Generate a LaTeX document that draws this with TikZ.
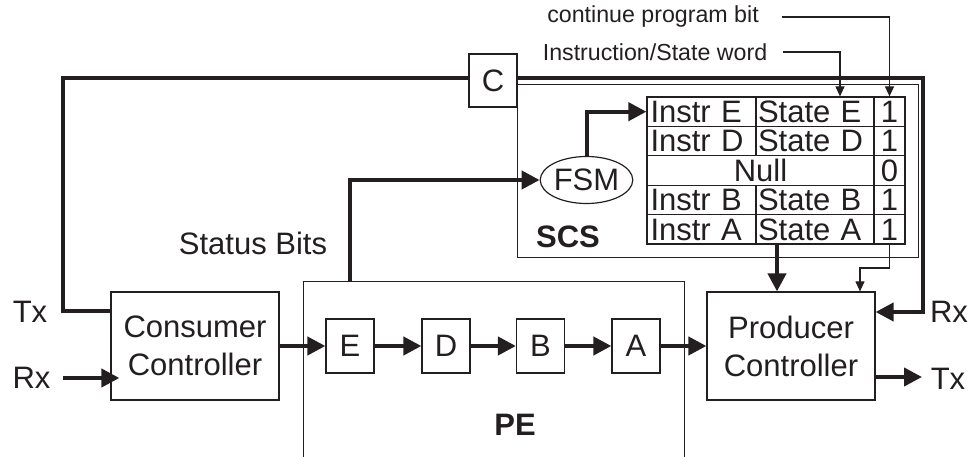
\documentclass[tikz,border=0pt]{standalone}
\usepackage{fontspec}
\setmainfont{Liberation Sans}
\usetikzlibrary{arrows.meta,shapes.geometric}
\definecolor{ink}{HTML}{231F20}

\begin{document}
\begin{tikzpicture}[x=1pt,y=-1pt,
  ln/.style={draw=ink, line width=1.2pt},
  box/.style={ln, fill=white, inner sep=0pt},
  bus/.style={draw=ink, line width=4pt},
  arr/.style={bus, -{Triangle[length=18pt,width=18pt]}},
  fine/.style={draw=ink, line width=1.1pt},
  farr/.style={fine, -{Triangle[length=10pt,width=9pt]}},
  big/.style={font=\fontsize{31}{38}\selectfont, text=ink},
  bigbf/.style={font=\fontsize{31}{38}\selectfont\bfseries, text=ink},
  small/.style={font=\fontsize{23.2}{28}\selectfont, text=ink},
  cell/.style={ln, big, minimum height=29.4pt, text height=21.5pt, text depth=0pt,
               inner ysep=0pt, align=left},
  stage/.style={box, big, minimum width=48pt, minimum height=54pt},
  ctrl/.style={box, big, align=center, minimum width=168pt, minimum height=108pt}
]
\useasboundingbox (0,0) rectangle (970,457);
\clip (0,0) rectangle (970,457);

% processing element, open at the bottom edge
\node[box, anchor=north west, minimum width=381pt, minimum height=200pt] (pe) at (303,281) {};
\node[bigbf] (pelabel) at (515,425) {PE};

% sequence control store
\node[box, anchor=north west, minimum width=401pt, minimum height=173pt] (scs) at (517,84) {};
\node[bigbf] (scslabel) at (568,237) {SCS};

% instruction/state table
\node[cell, text width=102pt, inner xsep=3.5pt] (iE) at (701.5,111.7) {Instr E};
\node[cell, text width=114pt, inner xsep=2pt] (sE) at (815,111.7) {State E};
\node[cell, minimum width=31pt, inner xsep=0pt] (bE) at (889.5,111.7) {1};
\node[cell, text width=102pt, inner xsep=3.5pt] (iD) at (701.5,141.1) {Instr D};
\node[cell, text width=114pt, inner xsep=2pt] (sD) at (815,141.1) {State D};
\node[cell, minimum width=31pt, inner xsep=0pt] (bD) at (889.5,141.1) {1};
\node[cell, minimum width=227pt, inner xsep=0pt] (nC) at (760.5,170.5) {Null};
\node[cell, minimum width=31pt, inner xsep=0pt] (bC) at (889.5,170.5) {0};
\node[cell, text width=102pt, inner xsep=3.5pt] (iB) at (701.5,199.9) {Instr B};
\node[cell, text width=114pt, inner xsep=2pt] (sB) at (815,199.9) {State B};
\node[cell, minimum width=31pt, inner xsep=0pt] (bB) at (889.5,199.9) {1};
\node[cell, text width=102pt, inner xsep=3.5pt] (iA) at (701.5,229.3) {Instr A};
\node[cell, text width=114pt, inner xsep=2pt] (sA) at (815,229.3) {State A};
\node[cell, minimum width=31pt, inner xsep=0pt] (bA) at (889.5,229.3) {1};

% state machine
\node[ellipse, box, big, minimum width=83pt, minimum height=47pt] (fsm) at (586.5,180) {FSM};

% controllers
\node[ctrl] (cc) at (195,346) {Consumer\\Controller};
\node[ctrl] (pc) at (791,346) {Producer\\Controller};

% pipeline stages
\node[stage] (stE) at (350,346) {E};
\node[stage] (stD) at (446,346) {D};
\node[stage] (stB) at (540.5,346) {B};
\node[stage] (stA) at (636,346) {A};

% C box on the ring
\node[stage, minimum height=53pt] (cbox) at (493,80.5) {C};

% port labels
\node[big] (txl) at (30,312) {Tx};
\node[big] (rxl) at (31.5,378) {Rx};
\node[big] (rxr) at (949,312) {Rx};
\node[big] (txr) at (948,379) {Tx};
\node[big] (sbits) at (253,243) {Status Bits};
\node[small] (cpb) at (653,17) {continue program bit};
\node[small] (isw) at (655,52) {Instruction/State word};

% ring bus
\coordinate (txc) at (63,78);
\coordinate (rxc) at (923,312);
\draw[bus] ([yshift=-20pt]cc.north west) -| (txc) -- ([yshift=2.5pt]cbox.west);
\draw[arr] ([yshift=2.5pt]cbox.east) -| (rxc) -- (rxc -| pc.east);

% data path
\draw[arr] ([xshift=9pt]rxl.east) -- ([xshift=9pt]rxl.east -| cc.west);
\draw[arr] (cc.east) -- (stE.west);
\draw[arr] (stE.east) -- (stD.west);
\draw[arr] (stD.east) -- (stB.west);
\draw[arr] (stB.east) -- (stA.west);
\draw[arr] (stA.east) -- (pc.west);
\coordinate (txend) at (922,377);
\draw[arr] (txend -| pc.east) -- (txend);

% status bits to the state machine, and its output into the table
\draw[arr] ([xshift=47pt]pe.north west) |- (fsm.west);
\draw[arr] (fsm.north) |- (iE.west);

% table outputs to the producer
\draw[arr] ([xshift=-38pt]sA.south) -- ([xshift=-38pt]sA.south |- pc.north);
\coordinate (cbend) at (860,268);
\draw[farr] (bA.south) |- (cbend) -- (cbend |- pc.north);

% annotation leaders
\draw[farr] ([xshift=20pt]cpb.east) -| (bE.north);
\draw[farr] ([xshift=12pt]isw.east) -| ([xshift=25pt]sE.north);
\end{tikzpicture}
\end{document}
